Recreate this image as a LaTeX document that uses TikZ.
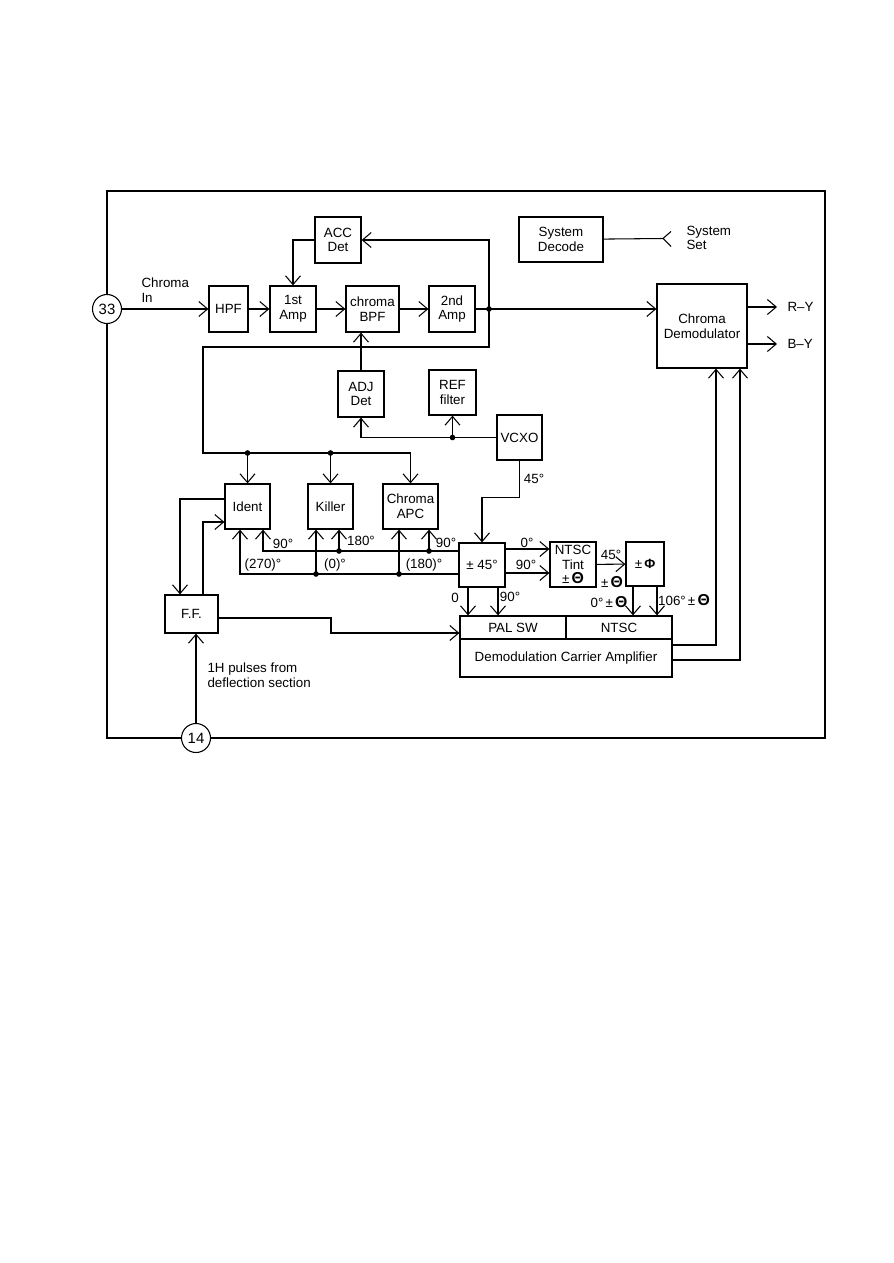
\documentclass[tikz,border=0pt]{standalone}
\usepackage{fontspec}
\setmainfont{Liberation Sans}
\usetikzlibrary{arrows.meta}
\newcommand{\tsym}{{\fontsize{9}{9}\selectfont\textbf{Θ}}}

\begin{document}
\begin{tikzpicture}[x=0.02cm, y=-0.02cm, line width=0.6pt,
    >={Straight Barb[length=5pt,width=8.5pt]},
    every node/.style={font=\fontsize{7.6}{8.4}\selectfont, align=center, inner sep=0pt},
    block/.style={draw, line width=0.7pt},
    sz/.style 2 args={minimum width=#1*0.02cm, minimum height=#2*0.02cm},
    port/.style={draw, circle, fill=white, minimum size=29*0.02cm, font=\fontsize{8.5}{9}\selectfont}]
    \useasboundingbox (0,0) rectangle (893,1263);
    % Bloques de la cadena de croma
    \node[port] (n33) at (107,309) {33};
    \node[port] (n14) at (196,738) {14};
    \node[block, sz={39}{46}] (hpf) at (228.5,309) {HPF};
    \node[block, sz={46}{46}] (amp1) at (293,309) {1st\\Amp};
    \node[block, sz={53}{46}] (bpf) at (372.5,309) {chroma\\BPF};
    \node[block, sz={46}{46}] (amp2) at (452,309) {2nd\\Amp};
    \node[block, sz={46}{46}] (acc) at (338,240) {ACC\\Det};
    \node[block, sz={84}{45}] (sysdec) at (561,239.5) {System\\Decode};
    \node[block, sz={90}{84}] (demod) at (702,326) {Chroma\\Demodulator};
    \node[block, sz={46}{46}] (adj) at (361,394) {ADJ\\Det};
    \node[block, sz={47}{45}] (ref) at (452.5,392.5) {REF\\filter};
    \node[block, sz={45}{45}] (vcxo) at (519.5,437.5) {VCXO};
    \node[block, sz={45}{45}] (ident) at (247.5,506.5) {Ident};
    \node[block, sz={45}{45}] (killer) at (330.5,506.5) {Killer};
    \node[block, sz={55}{45}] (apc) at (410.5,506.5) {Chroma\\APC};
    \node[block, sz={46}{44}] (pm45) at (482,565) {± 45°};
    \node[block, sz={46}{45}] (tint) at (573,564.5) {NTSC\\Tint\\±\,\tsym};
    \node[block, sz={38}{44}] (phi) at (645,564) {±\,\textbf{Φ}};
    \node[block, sz={53}{38}] (ff) at (191.5,614) {F.F.};
    \node[block, sz={106}{23}] (palsw) at (513,627.5) {PAL SW};
    \node[block, sz={106}{23}] (ntsc) at (619,627.5) {NTSC};
    \node[block, sz={212}{38}] (dca) at (566,658) {Demodulation Carrier Amplifier};

    \node[anchor=west, align=left] (chin) at (141,290.5) {Chroma\\In};
    \node[anchor=west, align=left] (sysset) at (686,238) {System\\Set};
    \node[anchor=west] (ry) at (787,307) {R–Y};
    \node[anchor=west] (by) at (787,344) {B–Y};
    \node[anchor=west, align=left] (pulses) at (207,675.5) {1H pulses from\\deflection section};
    \node (a45) at (534,479) {45°};
    \node (t0) at (527,543) {0°};
    \node (t90) at (526,565) {90°};
    \node (p45) at (611,555) {45°};
    \node (pth) at (612,582) {±\,\tsym};
    \node (i90) at (283,544) {90°};
    \node (k180) at (361,541) {180°};
    \node (c90) at (446,543) {90°};
    \node (i270) at (263,565) {(270)°};
    \node (k0) at (335,565) {(0)°};
    \node (c180) at (424,565) {(180)°};
    \node (s0) at (455,598) {0};
    \node (s90) at (510,597) {90°};
    \node (f0) at (609,602) {0°\,±\,\tsym};
    \node (f106) at (684,600) {106°\,±\,\tsym};

    % Marco del circuito integrado
    \coordinate (tr) at (825,191);
    \draw (n33.north) |- (tr) |- (n14.east);
    \draw (n14.west) -| (n33.south);

    \draw[->] (n33) -- (hpf);
    \draw[->] (hpf) -- (amp1);
    \draw[->] (amp1) -- (bpf);
    \draw[->] (bpf) -- (amp2);
    \coordinate (jn) at (489,309);
    \draw (amp2) -- (jn);
    \draw[->] (jn) -- (jn -| demod.west);
    \fill (jn) circle[radius=1.6pt];
    \draw[->] (jn) |- (acc.east);
    \draw[->] (acc.west) -| (amp1.north);
    \coordinate (lpa) at (203,347);
    \coordinate (bus) at (203,453);
    \draw[->] (jn) |- (lpa) -- (bus) -| (apc.north);
    \draw[->] (ident.north |- bus) -- (ident.north);
    \draw[->] (killer.north |- bus) -- (killer.north);
    \fill (ident.north |- bus) circle[radius=1.6pt] (killer.north |- bus) circle[radius=1.6pt];

    \draw[->] (adj) -- (adj.north |- bpf.south);
    \draw[->] (vcxo.west) -| (adj.south);
    \draw[->] (ref.south |- vcxo.west) -- (ref.south);
    \fill (ref.south |- vcxo.west) circle[radius=1.6pt];
    \draw[->] (vcxo.south) -- ++(0,37) -| (pm45.north);

    \coordinate (o0) at ([shift={(0,-16)}]pm45.east);
    \coordinate (o90) at ([shift={(0,8)}]pm45.east);
    \draw[->] (o0) -- (o0 -| tint.west);
    \draw[->] (o90) -- (o90 -| tint.west);
    \draw[->] (tint) -- (phi);

    % Realimentacion de fase hacia Ident, Killer y APC
    \coordinate (fbu) at ([shift={(0,-14)}]pm45.west);
    \coordinate (fbl) at ([shift={(0,9)}]pm45.west);
    \draw[->] (fbu) -| ([shift={(15.5,0)}]ident.south);
    \draw[->] (fbl) -| ([shift={(-7.5,0)}]ident.south);
    \coordinate (ku) at ([shift={(8.5,0)}]killer.south);
    \coordinate (kl) at ([shift={(-14.5,0)}]killer.south);
    \coordinate (au) at ([shift={(18.5,0)}]apc.south);
    \coordinate (al) at ([shift={(-11.5,0)}]apc.south);
    \foreach \t/\f in {ku/fbu, au/fbu, kl/fbl, al/fbl} {
        \draw[->] (\t |- \f) -- (\t);
        \fill (\t |- \f) circle[radius=1.6pt];
    }

    \draw[->] ([shift={(0,-7.5)}]ident.west) -| ([shift={(-11.5,0)}]ff.north);
    \draw[->] ([shift={(11.5,0)}]ff.north) |- ([shift={(0,15.5)}]ident.west);
    \coordinate (ffk) at (331,633);
    \draw[->] ([shift={(0,4)}]ff.east) -| (ffk) -- (ffk -| palsw.west);
    \draw[->] (n14) -- (n14 |- ff.south);

    \coordinate (d0) at ([shift={(-14,0)}]pm45.south);
    \coordinate (d90) at ([shift={(16,0)}]pm45.south);
    \coordinate (e0) at ([shift={(-12,0)}]phi.south);
    \coordinate (e106) at ([shift={(12,0)}]phi.south);
    \draw[->] (d0) -- (d0 |- palsw.north);
    \draw[->] (d90) -- (d90 |- palsw.north);
    \draw[->] (e0) -- (e0 |- ntsc.north);
    \draw[->] (e106) -- (e106 |- ntsc.north);

    \coordinate (r1) at ([shift={(0,-13)}]dca.east);
    \coordinate (r2) at ([shift={(0,2)}]dca.east);
    \draw[->] (r1) -| ([shift={(14,0)}]demod.south);
    \draw[->] (r2) -| ([shift={(38,0)}]demod.south);
    \draw[->] ([shift={(0,-19)}]demod.east) -- ([shift={(-10,0)}]ry.west);
    \draw[->] ([shift={(0,18)}]demod.east) -- ([shift={(-10,0)}]by.west);

    \coordinate (sset) at (663,238.5);
    \draw (sysdec) -- (sset);
    \draw ([shift={(8,-7)}]sset) -- (sset) -- ([shift={(8,8)}]sset);
\end{tikzpicture}
\end{document}
